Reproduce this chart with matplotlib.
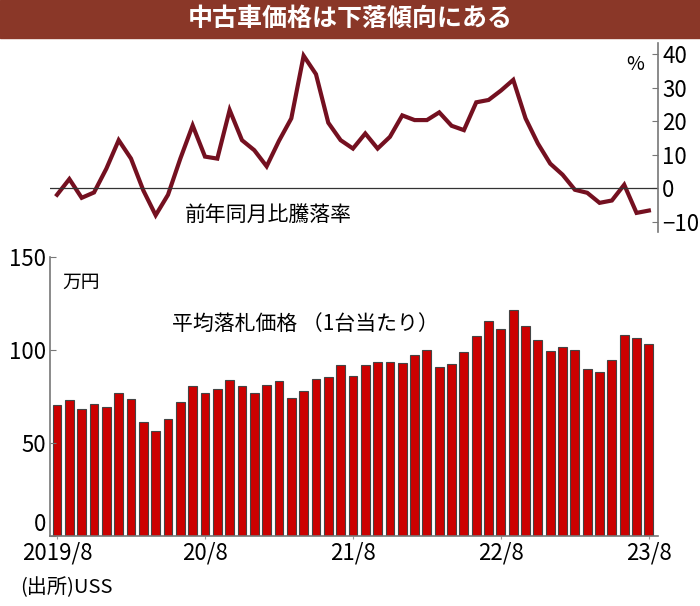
import matplotlib
matplotlib.use("Agg")
import matplotlib.pyplot as plt
import numpy as np

plt.rcParams['font.family'] = ['Liberation Sans Narrow', 'Noto Sans CJK JP', 'DejaVu Sans']
JP = ['Noto Sans CJK JP', 'DejaVu Sans']

# monthly, 2019/8 .. 2023/8
yoy = [-2.0, 2.7, -2.9, -1.3, 5.8, 14.3, 8.8, -0.7, -8.1, -2.0,
       8.8, 18.7, 9.4, 8.8, 23.3, 14.3, 11.3, 6.5, 14.1, 20.8,
       39.5, 34.0, 19.5, 14.3, 11.8, 16.3, 11.8, 15.3, 21.7, 20.3,
       20.3, 22.6, 18.6, 17.3, 25.6, 26.3, 29.1, 32.3, 20.8, 13.3,
       7.3, 4.0, -0.5, -1.4, -4.4, -3.7, 1.0, -7.4, -6.7]
price = [70.4, 72.9, 68.1, 71.0, 69.5, 76.7, 73.5, 61.3, 56.3, 63.1,
         72.0, 80.8, 77.1, 78.9, 83.9, 80.8, 76.7, 81.4, 83.3, 74.2,
         78.1, 84.6, 85.5, 91.8, 86.0, 91.9, 93.4, 93.4, 92.8, 97.5,
         100.2, 90.7, 92.5, 98.7, 107.5, 115.4, 111.1, 121.7, 112.9, 105.6,
         99.5, 101.6, 100.0, 89.6, 88.0, 94.8, 108.1, 106.3, 103.4]
xtick_pos = [0, 12, 24, 36, 48]
xtick_labels = ['2019/8', '20/8', '21/8', '22/8', '23/8']

x = np.arange(len(price))
xlim = (-0.57, 48.74)

fig = plt.figure(figsize=(7, 6.06), dpi=100)

# title bar
fig.patches.append(plt.Rectangle((0, 1 - 38 / 606), 1, 38 / 606, transform=fig.transFigure,
                                 color='#8a3728', zorder=0))
fig.text(0.5, 1 - 19 / 606, '中古車価格は下落傾向にある', color='white', fontsize=18,
         fontweight='bold', ha='center', va='center', family=JP)

# top: year-on-year change
ax1 = fig.add_axes([50 / 700, 1 - 232 / 606, 608 / 700, 189 / 606])
ax1.plot(x, yoy, color='#741020', lw=3.0, solid_joinstyle='miter')
ax1.axhline(0, color='#333333', lw=0.9)
ax1.set_xlim(*xlim)
ax1.set_ylim(-13.1, 43.3)
for s in ['left', 'top', 'bottom']:
    ax1.spines[s].set_visible(False)
ax1.spines['right'].set_color('#777777')
ax1.spines['right'].set_linewidth(1.2)
ax1.yaxis.tick_right()
ax1.set_yticks([40, 30, 20, 10, 0, -10])
ax1.tick_params(axis='y', direction='in', length=4, color='#777777', labelsize=16, pad=3)
ax1.set_xticks([])
ax1.text(0.962, 0.884, '%', transform=ax1.transAxes, fontsize=14, ha='center', va='center', family=JP)
ax1.text(10.4, -8, '前年同月比騰落率', fontsize=15, va='center', ha='left', family=JP)

# bottom: average winning bid price
ax2 = fig.add_axes([50 / 700, 1 - 536 / 606, 608 / 700, 279 / 606])
ax2.bar(x, price, width=0.72, color='#cc0000', edgecolor='#444444', linewidth=0.8)
ax2.set_xlim(*xlim)
ax2.set_ylim(0, 150)
for s in ['right', 'top']:
    ax2.spines[s].set_visible(False)
for s in ['left', 'bottom']:
    ax2.spines[s].set_color('#777777')
    ax2.spines[s].set_linewidth(1.2)
ax2.set_yticks([0, 50, 100, 150])
ax2.tick_params(axis='y', direction='in', length=4, color='#777777', labelsize=16, pad=3)
ax2.get_yticklabels()[0].set_va('bottom')
ax2.set_xticks(xtick_pos)
ax2.set_xticklabels(xtick_labels)
ax2.tick_params(axis='x', direction='out', length=2, color='#999999', labelsize=16, pad=2)
ax2.text(0.02, 0.91, '万円', transform=ax2.transAxes, fontsize=13.5, va='center', family=JP)
ax2.text(9.3, 114, '平均落札価格 （1台当たり）', fontsize=15, va='center', family=JP)

fig.text(20 / 700, 1 - 588 / 606, '(出所)USS', fontsize=14.5, va='center', family=JP)

fig.savefig('out.png', dpi=100)
